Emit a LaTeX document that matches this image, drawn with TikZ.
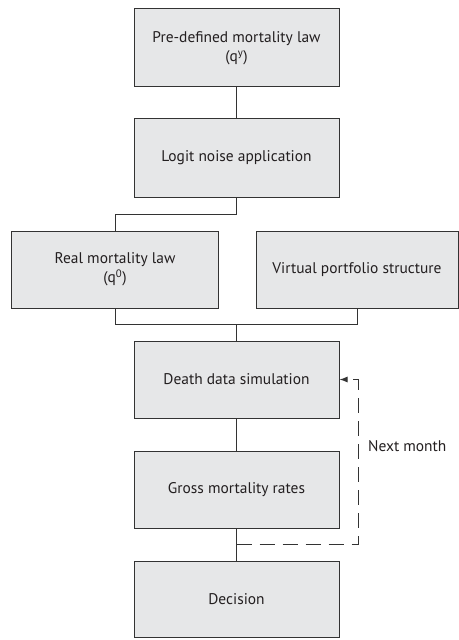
\documentclass[tikz,border=0pt]{standalone}
\usepackage{fontspec}
\setmainfont{PT Sans}
\usetikzlibrary{arrows.meta}
\definecolor{boxfill}{HTML}{E6E7E8}
\definecolor{linecol}{HTML}{333333}
\definecolor{txtcol}{HTML}{231F20}
\tikzset{
  box/.style={draw=linecol, fill=boxfill, line width=1bp, rectangle, minimum height=77bp, align=center, inner sep=0pt, font=\fontsize{15.5}{19}\selectfont, text=txtcol},
  conn/.style={draw=linecol, line width=1bp},
  loopline/.style={draw=linecol, line width=1bp, dash pattern=on 15bp off 8bp, -{Latex[length=8bp,width=6bp]}}
}
\begin{document}
\begin{tikzpicture}[x=1bp,y=-1bp]
\useasboundingbox (0,0) rectangle (459,640);
\node[box, minimum width=205bp, minimum height=78bp] (pre) at (236.5,48) {Pre-defined mortality law\\(q\textsuperscript{y})};
\node[box, minimum width=205bp, minimum height=78bp] (logit) at (236.5,158) {Logit noise application};
\node[box, minimum width=206bp] (real) at (115,269.5) {Real mortality law\\(q\textsuperscript{0})};
\node[box, minimum width=202bp] (virt) at (357,269.5) {Virtual portfolio structure};
\node[box, minimum width=205bp] (death) at (236.5,379.5) {Death data simulation};
\node[box, minimum width=205bp] (gross) at (236.5,489.5) {Gross mortality rates};
\node[box, minimum width=205bp, minimum height=76bp] (dec) at (236.5,599) {Decision};
\coordinate (split) at (236.5,214);
\coordinate (merge) at (236.5,324);
\coordinate (fb) at (236.5,544);
\coordinate (fbr) at (358,544);
\draw[conn] (pre.south) -- (logit.north);
\draw[conn] (logit.south) -- (split) -| (real.north);
\draw[conn] (real.south) |- (merge);
\draw[conn] (virt.south) |- (merge);
\draw[conn] (merge) -- (death.north);
\draw[conn] (death.south) -- (gross.north);
\draw[conn] (gross.south) -- (dec.north);
\draw[loopline] (fb) -- (fbr) |- (death.east);
\node[anchor=west, inner sep=0pt, font=\fontsize{15.5}{19}\selectfont, text=txtcol] (nm) at (368,446) {Next month};
\end{tikzpicture}
\end{document}
